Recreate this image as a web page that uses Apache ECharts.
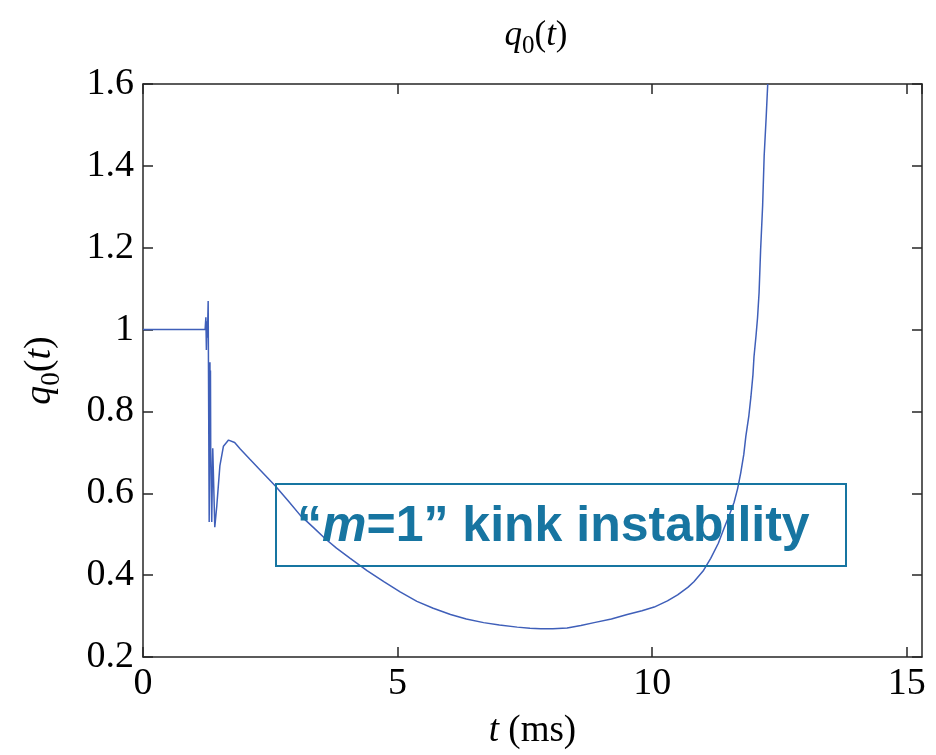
<!DOCTYPE html>
<html>
<head>
<meta charset="utf-8">
<script src="https://cdn.jsdelivr.net/npm/echarts@6/dist/echarts.min.js"></script>
<style>
  html, body { margin: 0; padding: 0; background: #fff; }
  #chart { width: 936px; height: 755px; }
</style>
</head>
<body>
<div id="chart"></div>
<script>
// t (ms) and q0(t)
const tVals = [0, 1.22, 1.235, 1.245, 1.255, 1.265, 1.28, 1.30, 1.315, 1.32, 1.325, 1.33, 1.35, 1.37, 1.41,
  1.45, 1.51, 1.58, 1.68, 1.80, 1.91, 2.10, 2.30, 2.60, 2.85, 3.09, 3.35, 3.58, 3.80, 4.07, 4.40, 4.73,
  5.05, 5.38, 5.70, 6.04, 6.35, 6.69, 7.00, 7.35, 7.60, 7.81, 8.05, 8.33, 8.60, 8.86, 9.20, 9.51, 9.80,
  10.04, 10.30, 10.50, 10.70, 10.82, 11.00, 11.15, 11.30, 11.41, 11.52, 11.61, 11.68, 11.74, 11.80,
  11.84, 11.90, 11.94, 11.98, 12.00, 12.04, 12.07, 12.10, 12.13, 12.17, 12.20, 12.24, 12.27];
const qVals = [1.0, 1.0, 1.03, 0.95, 1.02, 0.98, 1.07, 0.53, 0.92, 0.72, 0.90, 0.71, 0.53, 0.71, 0.517,
  0.57, 0.667, 0.715, 0.730, 0.724, 0.708, 0.683, 0.657, 0.618, 0.582, 0.546, 0.516, 0.489, 0.466, 0.441,
  0.411, 0.384, 0.359, 0.336, 0.319, 0.304, 0.293, 0.284, 0.278, 0.273, 0.270, 0.269, 0.269, 0.271,
  0.277, 0.284, 0.293, 0.304, 0.313, 0.322, 0.337, 0.352, 0.370, 0.384, 0.410, 0.441, 0.478, 0.514,
  0.548, 0.578, 0.612, 0.650, 0.695, 0.739, 0.790, 0.836, 0.890, 0.933, 0.985, 1.029, 1.09, 1.194,
  1.303, 1.424, 1.52, 1.60];
const xTicks = [0, 5, 10, 15];
const yTicks = [0.2, 0.4, 0.6, 0.8, 1, 1.2, 1.4, 1.6];

const serif = "'Liberation Serif', 'DejaVu Serif', serif";
const sans = "'Liberation Sans', Arial, sans-serif";
const frameColor = '#262626';
const noteColor = '#1775a1';

const chart = echarts.init(document.getElementById('chart'));

// 坐标轴公共样式
const frameAxis = (extra) => Object.assign({
  axisLine: { show: true, onZero: false, lineStyle: { color: frameColor, width: 1.5 } },
  axisTick: { show: true, inside: true, length: 10, lineStyle: { color: frameColor, width: 1.5 } },
  splitLine: { show: false }
}, extra);

// 下标用的 rich 样式
const mathRich = (size) => ({
  it: { fontFamily: serif, fontStyle: 'italic', fontWeight: 'normal', fontSize: size, color: '#000' },
  n: { fontFamily: serif, fontWeight: 'normal', fontSize: size, color: '#000' },
  sub: { fontFamily: serif, fontWeight: 'normal', fontSize: Math.round(size * 0.72), color: '#000', padding: [Math.round(size * 0.6), 0, 0, 0] }
});

const option = {
  animation: false,
  backgroundColor: '#fff',
  title: {
    text: '{it|q}{sub|0}{n|(}{it|t}{n|)}',
    left: 531,
    top: 8,
    textAlign: 'center',
    textStyle: { fontWeight: 'normal', fontSize: 35, fontFamily: serif, rich: mathRich(35) }
  },
  grid: { left: 143, right: 14, top: 84, bottom: 92 },
  xAxis: [
    frameAxis({
      type: 'value',
      position: 'bottom',
      min: 0,
      max: 15.3,
      interval: 5,
      name: '{it|t}{n| (ms)}',
      nameLocation: 'middle',
      nameGap: 56,
      nameTextStyle: { rich: mathRich(37) },
      axisLabel: {
        fontFamily: serif, fontSize: 38, color: '#000', margin: 8,
        showMaxLabel: false,
        formatter: (v) => (xTicks.includes(v) ? String(v) : '')
      }
    }),
    frameAxis({
      type: 'value', position: 'top', min: 0, max: 15.3, interval: 5,
      axisLabel: { show: false }
    })
  ],
  yAxis: [
    frameAxis({
      type: 'value',
      position: 'left',
      min: 0.2,
      max: 1.6,
      interval: 0.2,
      name: '{it|q}{sub|0}{n|(}{it|t}{n|)}',
      nameLocation: 'middle',
      nameGap: 78,
      nameTextStyle: { rich: mathRich(38) },
      axisLabel: {
        fontFamily: serif, fontSize: 38, color: '#000', margin: 9,
        formatter: (v) => {
          const r = Math.round(v * 10) / 10;
          return yTicks.includes(r) ? String(r) : '';
        }
      }
    }),
    frameAxis({
      type: 'value', position: 'right', min: 0.2, max: 1.6, interval: 0.2,
      axisLabel: { show: false }
    })
  ],
  series: [
    {
      type: 'line',
      data: tVals.map((t, i) => [t, qVals[i]]),
      showSymbol: false,
      clip: true,
      lineStyle: { color: '#3f5fb9', width: 1.5 }
    }
  ],
  graphic: [
    {
      type: 'rect',
      left: 275,
      top: 483,
      shape: { width: 570, height: 82 },
      style: { fill: '#fff', fillOpacity: 0, stroke: noteColor, lineWidth: 2 },
      z: 10
    },
    {
      type: 'text',
      left: 297,
      top: 502,
      z: 11,
      style: {
        text: '{q|\u201c}{m|m}{q|=1\u201d kink instability}',
        rich: {
          q: { fontFamily: sans, fontWeight: 'bold', fontSize: 50, fill: noteColor },
          m: { fontFamily: sans, fontWeight: 'bold', fontStyle: 'italic', fontSize: 50, fill: noteColor }
        }
      }
    }
  ]
};

chart.setOption(option);
</script>
</body>
</html>
